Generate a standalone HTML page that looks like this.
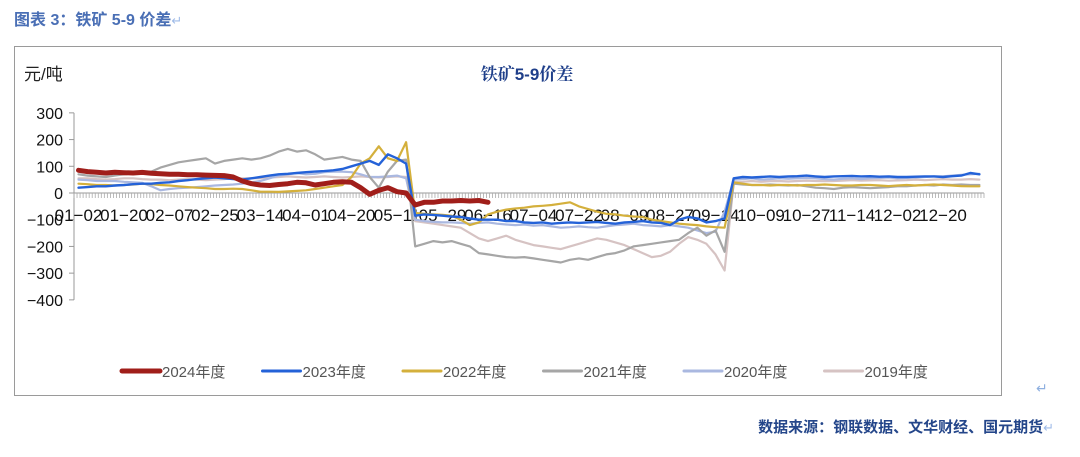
<!DOCTYPE html>
<html><head><meta charset="utf-8">
<style>
body{margin:0;background:#fff;width:1080px;height:457px;overflow:hidden;font-family:"Liberation Sans","Noto Sans CJK SC",sans-serif;}
.cap{position:absolute;left:14px;top:6px;font-size:16px;font-weight:bold;color:#4a6fb5;}
.src{position:absolute;right:26px;top:416px;font-size:15px;font-weight:bold;color:#24468a;}
.frame{position:absolute;left:14px;top:46px;width:988px;height:350px;border:1.5px solid #9a9a9a;box-sizing:border-box;}
.ret{position:absolute;color:#8fb0e0;font-size:14px;}
</style></head><body>
<div class="cap">图表 3：铁矿 5-9 价差<span style="color:#9fbbe8;font-weight:normal;font-size:13px">↵</span></div>
<div class="frame"></div>
<div class="ret" style="left:1036px;top:380px">↵</div>
<div class="src">数据来源：钢联数据、文华财经、国元期货<span style="color:#9fbbe8;font-weight:normal;font-size:13px">↵</span></div>
<svg id="chart" width="1080" height="457" style="position:absolute;left:0;top:0"></svg>
<script>
const tickLabels=["01-02","01-20","02-07","02-25","03-14","04-01","04-20","05-11","05-29","06-16","07-04","07-22","08-09","08-27","09-14","10-09","10-27","11-14","12-02","12-20"];
const yTicks=[300,200,100,0,-100,-200,-300,-400];
const seriesNames=["2019年度","2020年度","2021年度","2022年度","2023年度","2024年度"];
const s2024=[85,80,78,75,78,76,75,77,74,72,70,70,68,68,67,66,65,60,45,35,30,28,32,35,40,38,30,35,40,42,40,20,-5,10,20,5,0,-45,-35,-35,-30,-30,-28,-30,-28,-35];
const s2023=[20,22,25,25,28,30,33,35,35,38,40,45,48,52,55,58,55,52,50,55,60,65,70,72,75,78,80,82,85,90,100,110,120,105,145,130,110,-85,-80,-82,-85,-88,-90,-95,-100,-100,-100,-105,-105,-110,-112,-110,-115,-112,-110,-112,-110,-108,-112,-115,-110,-108,-105,-110,-112,-120,-100,-90,-95,-110,-105,-95,55,60,58,60,62,60,62,63,65,62,60,62,63,64,62,63,61,62,60,60,61,62,62,60,63,65,75,70];
const s2022=[35,33,30,30,28,30,32,35,33,30,28,25,22,20,18,15,15,16,15,10,5,5,4,6,8,10,15,20,25,30,60,110,130,175,130,120,190,-75,-78,-80,-82,-85,-100,-120,-110,-80,-70,-62,-58,-55,-50,-48,-45,-40,-35,-50,-60,-70,-78,-80,-85,-88,-90,-100,-105,-110,-115,-118,-120,-125,-128,-130,40,35,30,30,28,30,30,28,30,30,32,30,28,28,30,30,28,26,28,30,28,30,32,30,28,26,25,25];
const s2021=[70,65,62,60,65,70,75,78,80,95,105,115,120,125,130,110,120,125,130,125,130,140,155,165,155,160,145,125,130,135,125,120,60,20,80,120,125,-200,-190,-180,-185,-180,-190,-200,-225,-230,-235,-240,-242,-240,-245,-250,-255,-260,-250,-245,-250,-240,-230,-225,-215,-200,-195,-190,-185,-180,-175,-150,-130,-160,-140,-220,35,32,30,30,32,30,28,30,25,20,18,15,20,22,20,18,20,22,25,25,28,30,28,32,30,32,30,30];
const s2020=[50,48,45,45,45,42,40,38,25,10,15,18,20,22,25,28,30,32,35,40,45,55,65,70,75,70,72,78,80,80,78,70,60,60,62,65,55,-100,-105,-108,-110,-110,-112,-115,-112,-110,-115,-118,-120,-118,-122,-120,-125,-130,-128,-125,-128,-130,-125,-120,-118,-115,-120,-122,-125,-120,-125,-130,-140,-150,-145,-70,50,52,55,50,52,55,53,55,56,55,52,50,53,55,52,55,56,58,55,56,58,60,62,62,65,68,70,72];
const s2019=[55,55,52,50,52,55,55,52,50,50,48,50,52,50,48,50,52,55,55,55,55,58,60,62,60,58,60,62,60,58,60,62,60,58,60,62,60,-105,-110,-115,-120,-125,-130,-150,-170,-180,-170,-160,-175,-185,-195,-200,-205,-210,-200,-190,-180,-170,-175,-185,-195,-210,-225,-240,-235,-220,-190,-165,-175,-190,-230,-290,40,42,45,42,44,45,43,45,46,45,44,45,46,48,46,47,48,46,47,48,50,48,50,52,50,50,52,50];
const N=100;
const NS="http://www.w3.org/2000/svg";
const svg=document.getElementById('chart');
const X0=74,STEP=9.1,OFF=4.5;
function xs(i){return X0+OFF+i*STEP;}
function ys(v){return 193+(-v)*(187/700);}
function mk(tag,attrs,parent){const e=document.createElementNS(NS,tag);for(const k in attrs)e.setAttribute(k,attrs[k]);(parent||svg).appendChild(e);return e;}
// unit & title
let t=mk('text',{x:24,y:80,'font-size':17,fill:'#222','font-family':'"Liberation Sans","Noto Sans CJK SC",sans-serif'});t.textContent='元/吨';


t=mk('text',{x:527,y:80,'font-size':17,'font-weight':'bold',fill:'#1f3f8a','text-anchor':'middle','font-family':'"Liberation Sans","Noto Serif CJK SC",serif'});t.textContent='铁矿5-9价差';


// y axis
let ya=mk('line',{x1:X0,y1:ys(300),x2:X0,y2:ys(-400),stroke:'#999','stroke-width':1});


yTicks.forEach(v=>{
  mk('line',{x1:X0-5,y1:ys(v),x2:X0,y2:ys(v),stroke:'#999'});
  const l=mk('text',{x:63,y:ys(v)+6,'font-size':16,'text-anchor':'end',fill:'#111'});
  l.textContent=String(v).replace('-','−');
  
  
});
// x axis
let xa=mk('line',{x1:X0,y1:ys(0),x2:xs(N-1)+OFF,y2:ys(0),stroke:'#999','stroke-width':1});


for(let k=0;k<=N*3;k++){const x=X0+k*STEP/3;mk('line',{x1:x,y1:ys(0),x2:x,y2:ys(0)+5,stroke:'#aaa','stroke-width':0.8});}
tickLabels.forEach((lab,j)=>{
  const l=mk('text',{x:xs(j*5),y:221,'font-size':17,'text-anchor':'middle',fill:'#111'});
  l.textContent=lab.replace('-','−');
  
  
});
// series
const seriesData=[s2019,s2020,s2021,s2022,s2023,s2024];
const colors=['#d6c3c3','#aab8e0','#a6a6a6','#d4b03c','#2462d8','#a01e1a'];
const widths=[2.2,2.2,2.2,2.2,2.4,5];
const ids=['line-2019','line-2020','line-2021','line-2022','line-2023','line-2024'];
seriesData.forEach((d,si)=>{
  const pts=d.map((v,i)=>xs(i).toFixed(1)+','+ys(v).toFixed(1)).join(' ');
  const p=mk('polyline',{points:pts,fill:'none',stroke:colors[si],'stroke-width':widths[si],'stroke-linejoin':'round','stroke-linecap':'round'});
  
  
});
// legend
const legOrder=[5,4,3,2,1,0];
legOrder.forEach((si,k)=>{
  const lx=122+k*140.5;
  const g=mk('g',{});
  
  
  mk('line',{x1:lx,y1:371,x2:lx+38,y2:371,stroke:colors[si],'stroke-width':si===5?5:3,'stroke-linecap':'round'},g);
  const tt=mk('text',{x:lx+40,y:377,'font-size':15,fill:'#555'},g);
  tt.textContent=seriesNames[si];
});
</script>
</body></html>
